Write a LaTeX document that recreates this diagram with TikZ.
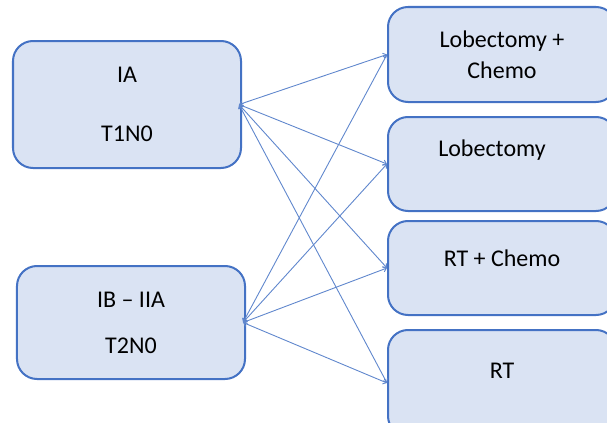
\documentclass[tikz,border=0pt]{standalone}
\usepackage{fontspec}
\setmainfont{Carlito}
\usetikzlibrary{arrows.meta}
\definecolor{boxblue}{RGB}{68,114,196}
\definecolor{boxfill}{RGB}{218,227,243}
\tikzset{stagebox/.style={draw=boxblue, fill=boxfill, line width=1pt, rounded corners=10pt,
    minimum width=114pt, align=center, font=\fontsize{12}{15.5}\selectfont},
  link/.style={boxblue!85, line width=0.45pt, {Straight Barb[length=1.6pt,width=2.6pt]}-{Straight Barb[length=1.6pt,width=2.6pt]}}}
\begin{document}
\begin{tikzpicture}[x=0.5pt,y=-0.5pt]
        \useasboundingbox (0,0) rectangle (607,423);
        \clip (0,0) rectangle (607,423);
        % stages
        \node[stagebox, minimum height=63.5pt] (ia) at (127,104.5) {IA\\[14pt]T1N0};
        \node[stagebox, minimum height=56.5pt] (ib) at (131,322.5) {IB -- IIA\\[7.5pt]T2N0};
        % treatments
        \node[stagebox, minimum height=47.5pt] (lobchemo) at (502,54.5) {Lobectomy +\\Chemo};
        \node[stagebox, minimum height=47pt] (lob) at (502,164) {Lobectomy\hspace*{10pt}\\\mbox{}};
        \node[stagebox, minimum height=47pt, text depth=10pt] (rtchemo) at (502,268) {RT + Chemo};
        \node[stagebox, minimum height=53pt, text depth=12pt] (rt) at (502,383) {RT};
        % links
        \foreach \s in {ia,ib}
            \foreach \t in {lobchemo,lob,rtchemo,rt}
                \draw[link] ([xshift=-1.5pt]\s.east) -- (\t.west);
    \end{tikzpicture}
\end{document}
